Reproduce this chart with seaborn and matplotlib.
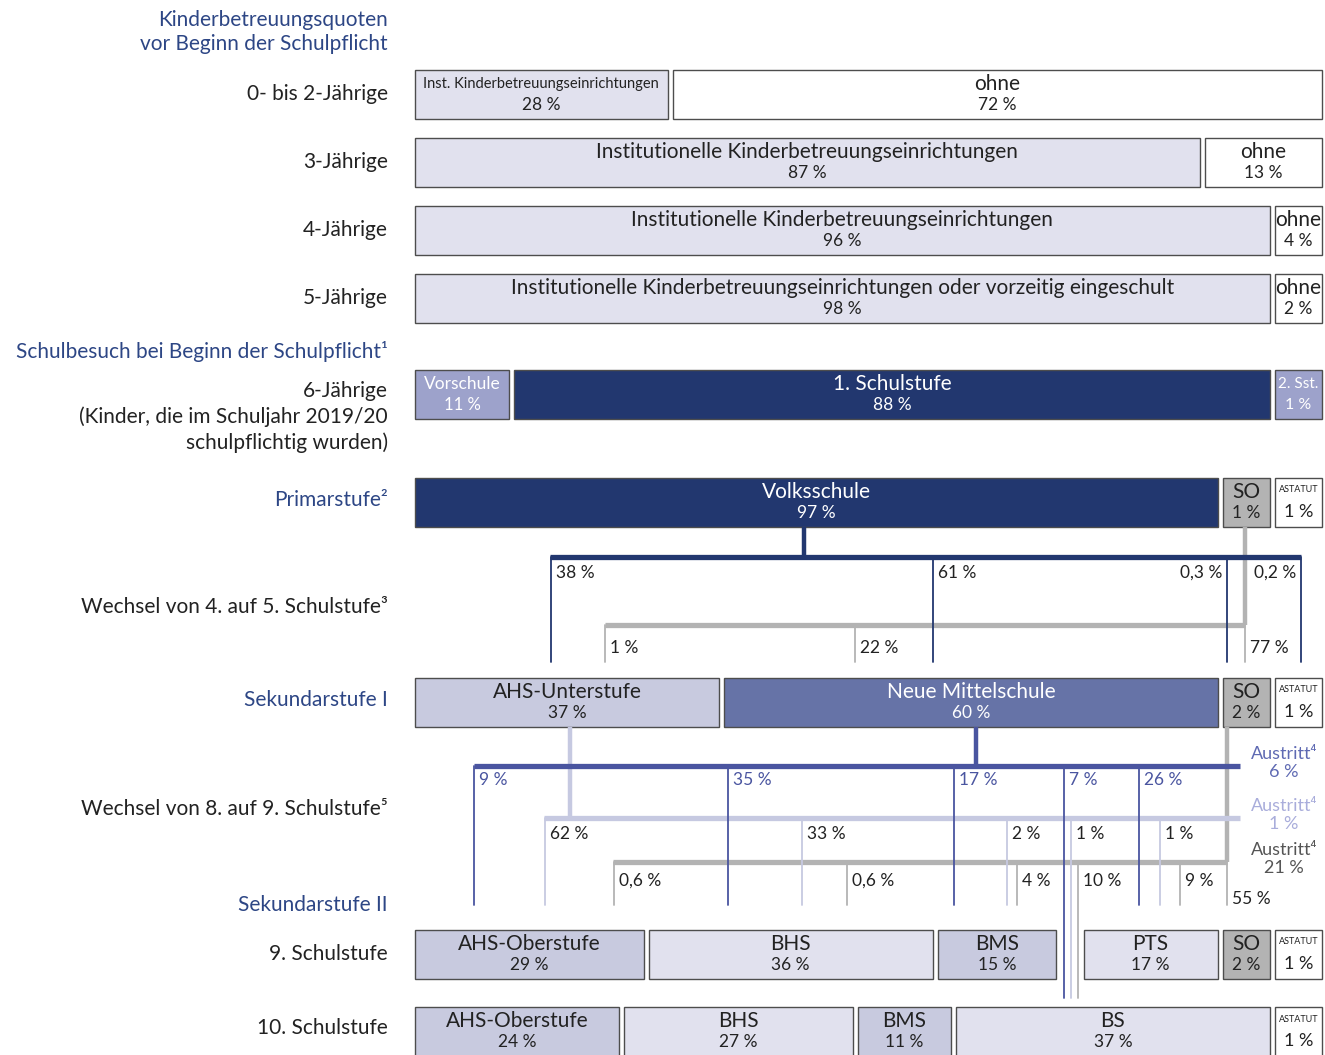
import numpy as np
import pandas as pd
import matplotlib.pyplot as plt
import seaborn as sns

# ---- data ---------------------------------------------------------------
r02_cats = ["Inst. Kinderbetreuungseinrichtungen", "ohne"]
r02_vals = [28, 72]
r3_cats = ["Institutionelle Kinderbetreuungseinrichtungen", "ohne"]
r3_vals = [87, 13]
r4_cats = ["Institutionelle Kinderbetreuungseinrichtungen", "ohne"]
r4_vals = [96, 4]
r5_cats = ["Institutionelle Kinderbetreuungseinrichtungen oder vorzeitig eingeschult", "ohne"]
r5_vals = [98, 2]
r6_cats = ["Vorschule", "1. Schulstufe", "2. Sst."]
r6_vals = [11, 88, 1]
prim_cats = ["Volksschule", "SO", "ASTATUT"]
prim_vals = [97, 1, 1]
sek1_cats = ["AHS-Unterstufe", "Neue Mittelschule", "SO", "ASTATUT"]
sek1_vals = [37, 60, 2, 1]
s9_cats = ["AHS-Oberstufe", "BHS", "BMS", "PTS", "SO", "ASTATUT"]
s9_vals = [29, 36, 15, 17, 2, 1]
s10_cats = ["AHS-Oberstufe", "BHS", "BMS", "BS", "ASTATUT"]
s10_vals = [24, 27, 11, 37, 1]

# Wechsel von 4. auf 5. Schulstufe
vs_targets = ["AHS-Unterstufe", "Neue Mittelschule", "SO", "ASTATUT"]
vs_values = [38, 61, 0.3, 0.2]
so1_targets = ["AHS-Unterstufe", "Neue Mittelschule", "SO"]
so1_values = [1, 22, 77]

# Wechsel von 8. auf 9. Schulstufe ("gap" = Weg zwischen BMS und PTS)
nms_targets = ["AHS-Oberstufe", "BHS", "BMS", "gap", "PTS"]
nms_values = [9, 35, 17, 7, 26]
nms_austritt = 6
ahs_targets = ["AHS-Oberstufe", "BHS", "BMS", "gap", "PTS"]
ahs_values = [62, 33, 2, 1, 1]
ahs_austritt = 1
so2_targets = ["AHS-Oberstufe", "BHS", "BMS", "gap", "PTS", "SO"]
so2_values = [0.6, 0.6, 4, 10, 9, 55]
so2_austritt = 21

row_labels = ["Kinderbetreuungsquoten\nvor Beginn der Schulpflicht", "0- bis 2-Jährige",
              "3-Jährige", "4-Jährige", "5-Jährige",
              "Schulbesuch bei Beginn der Schulpflicht¹",
              "6-Jährige\n(Kinder, die im Schuljahr 2019/20\nschulpflichtig wurden)",
              "Primarstufe²", "Wechsel von 4. auf 5. Schulstufe³", "Sekundarstufe I",
              "Wechsel von 8. auf 9. Schulstufe⁵", "Sekundarstufe II",
              "9. Schulstufe", "10. Schulstufe"]

# ---- styles -------------------------------------------------------------
NAVY = "#22376f"
NMS_FILL = "#6673a7"
NMS_LINE = "#4a55a0"
VOR = "#9da2cb"
LAV_DARK = "#c8cadf"
LAV_LIGHT = "#e1e1ee"
GREY = "#b3b3b3"
AHS_LINE = "#c6c9e1"
HEAD = "#2d4685"
TXT = "#222222"
EDGE = "#4d4d4d"

FILL = {"ohne": "white", "Vorschule": VOR, "1. Schulstufe": NAVY, "2. Sst.": VOR,
        "Volksschule": NAVY, "SO": GREY, "ASTATUT": "white",
        "AHS-Unterstufe": LAV_DARK, "Neue Mittelschule": NMS_FILL,
        "AHS-Oberstufe": LAV_DARK, "BHS": LAV_LIGHT, "BMS": LAV_DARK,
        "PTS": LAV_LIGHT, "BS": LAV_LIGHT}
WHITE_TXT = {"Vorschule", "1. Schulstufe", "2. Sst.", "Volksschule", "Neue Mittelschule"}
LABEL_SIZE = {"Inst. Kinderbetreuungseinrichtungen": 10.5, "2. Sst.": 11, "Vorschule": 12.5}
VALUE_SIZE = {"2. Sst.": 11.5, "Vorschule": 12}

sns.set_theme(style="white")
plt.rcParams["font.family"] = ["Lato", "DejaVu Sans"]


def pct(v):
    return f"{v:g}".replace(".", ",") + " %"


fig = plt.figure(figsize=(13.25, 10.55), dpi=100)
ax = fig.add_axes([0, 0, 1, 1])
X0, K = 415, 9.07          # bar area starts at 415 px, 1 % = 9.07 px


def ux(px):
    return (px - X0) / K


ax.set_xlim(ux(0), ux(1325))
ax.set_ylim(1055, 0)
ax.axis("off")

BAR_H = 49
MINW = 5.2
GAP = 0.55


def layout(vals, gap_after=None, spacer=2.5):
    n = len(vals)
    total_gap = GAP * (n - 1) + (spacer if gap_after is not None else 0)
    small = [v < MINW for v in vals]
    fixed = MINW * sum(small)
    rest = sum(v for v, s in zip(vals, small) if not s)
    k = (100 - total_gap - fixed) / rest
    widths = [MINW if s else v * k for v, s in zip(vals, small)]
    lefts, x = [], 0
    for i, w in enumerate(widths):
        lefts.append(x)
        x += w + GAP
        if gap_after == i:
            x += spacer
    return lefts, widths


rows = [("r02", r02_cats, r02_vals, 94, None), ("r3", r3_cats, r3_vals, 162, None),
        ("r4", r4_cats, r4_vals, 230, None), ("r5", r5_cats, r5_vals, 298, None),
        ("r6", r6_cats, r6_vals, 394, None), ("prim", prim_cats, prim_vals, 502, None),
        ("sek1", sek1_cats, sek1_vals, 702, None), ("s9", s9_cats, s9_vals, 954, 2),
        ("s10", s10_cats, s10_vals, 1031, None)]

pos = {}
for name, cats, vals, yc, gap_after in rows:
    lefts, widths = layout(vals, gap_after)
    ax.barh([yc] * len(cats), widths, left=lefts, height=BAR_H,
            color=[FILL.get(c, LAV_LIGHT) for c in cats], edgecolor=EDGE,
            linewidth=1.0, zorder=2)
    pos[name] = {"yc": yc, "seg": dict(zip(cats, zip(lefts, widths)))}
    if gap_after is not None:
        l, w = lefts[gap_after], widths[gap_after]
        pos[name]["seg"]["gap"] = (l + w, lefts[gap_after + 1] - (l + w))
    for c, v, l, w in zip(cats, vals, lefts, widths):
        col = "white" if c in WHITE_TXT else TXT
        cx = l + w / 2
        if c == "ASTATUT":
            ax.text(cx, yc - 12, c, ha="center", va="center", fontsize=6.5, color=col, zorder=3)
            ax.text(cx, yc + 10, pct(v), ha="center", va="center", fontsize=13, color=col, zorder=3)
        else:
            ax.text(cx, yc - 10, c, ha="center", va="center",
                    fontsize=LABEL_SIZE.get(c, 15), color=col, zorder=3)
            ax.text(cx, yc + 11, pct(v), ha="center", va="center",
                    fontsize=VALUE_SIZE.get(c, 12.5), color=col, zorder=3)


def seg_x(row, cat, frac):
    l, w = pos[row]["seg"][cat]
    return l + frac * w


def flow(src_row, src_cat, src_frac, tgt_row, targets, values, fracs, hy, color,
         end_y, lab_dy, lab_color, aligns=None, exit_px=None, austritt=None,
         aus_color=None, z=4):
    sx = seg_x(src_row, src_cat, src_frac)
    ax.plot([sx, sx], [pos[src_row]["yc"] + BAR_H / 2, hy], color=color, lw=3.2,
            solid_capstyle="butt", zorder=z)
    xs = [sx if f is None else seg_x(tgt_row, t, f) for t, f in zip(targets, fracs)]
    x_max = max(xs + [sx] + ([ux(exit_px)] if exit_px else []))
    ax.plot([min(xs) - 0.1, x_max], [hy, hy], color=color, lw=3.8,
            solid_capstyle="butt", zorder=z)
    aligns = aligns or ["left"] * len(xs)
    for i, (t, x, v, al) in enumerate(zip(targets, xs, values, aligns)):
        ye = end_y["gap"] if t == "gap" else end_y["bar"]
        ax.plot([x, x], [hy, ye], color=color, lw=1.3, zorder=z + 1)
        dy = lab_dy[i] if isinstance(lab_dy, list) else lab_dy
        tx = x + ux(X0 + 5) if al == "left" else x - ux(X0 + 5)
        ax.text(tx, hy + dy, pct(v), ha=al, va="center", fontsize=12.5,
                color=lab_color, zorder=6)
    if austritt is not None:
        ax.text(ux(1284), hy - 3, "Austritt⁴\n" + pct(austritt), ha="center",
                va="center", fontsize=13, color=aus_color, linespacing=1.15)


# 4. -> 5. Schulstufe
flow("prim", "SO", 0.47, "sek1", so1_targets, so1_values, [0.626, 0.265, None],
     625, GREY, {"bar": 662}, 23, TXT, z=3)
flow("prim", "Volksschule", 0.485, "sek1", vs_targets, vs_values,
     [0.446, 0.423, 0.1, 0.55], 557, NAVY, {"bar": 662}, 16, TXT,
     aligns=["left", "left", "right", "right"], z=5)

# 8. -> 9. Schulstufe
flow("sek1", "SO", 0.09, "s9", so2_targets, so2_values,
     [0.87, 0.70, 0.67, 0.8, 0.72, None], 862, GREY, {"bar": 905, "gap": 998},
     [19, 19, 19, 19, 19, 37], TXT, austritt=so2_austritt, aus_color="#555555", z=3)
flow("sek1", "AHS-Unterstufe", 0.51, "s9", ahs_targets, ahs_values,
     [0.57, 0.54, 0.59, 0.55, 0.57], 818, AHS_LINE, {"bar": 905, "gap": 998},
     16, TXT, exit_px=1240, austritt=ahs_austritt, aus_color="#a9addb", z=4)
flow("sek1", "Neue Mittelschule", 0.51, "s9", nms_targets, nms_values,
     [0.26, 0.28, 0.14, 0.3, 0.41], 766, NMS_LINE, {"bar": 905, "gap": 998},
     14, NMS_LINE, exit_px=1240, austritt=nms_austritt, aus_color="#5f6ab3", z=5)

# left-hand labels
label_y = [32, 94, 162, 230, 298, 352, 417, 500, 607, 700, 809, 905, 954, 1028]
heads = {0, 5, 7, 9, 11}
for i, (lab, y) in enumerate(zip(row_labels, label_y)):
    ax.text(ux(388), y, lab, ha="right", va="center", multialignment="right",
            fontsize=15, color=HEAD if i in heads else TXT,
            linespacing=1.25 if i == 0 else 1.3)

fig.savefig("out.png", dpi=100)
